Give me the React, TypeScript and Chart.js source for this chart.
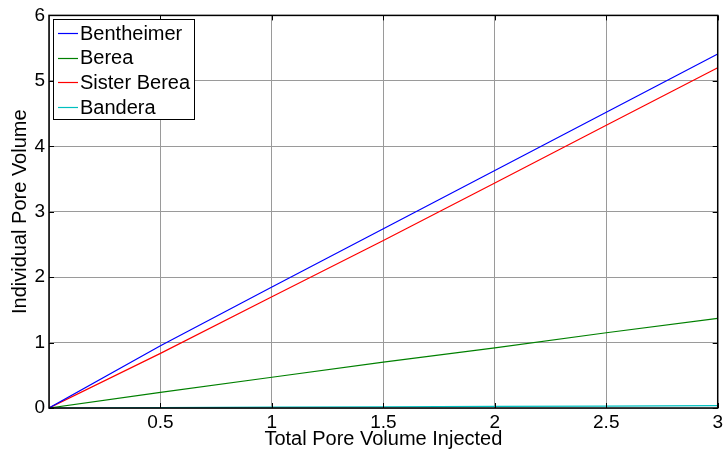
import React, { useEffect, useRef } from "react";
import { Chart, registerables } from "chart.js";
Chart.register(...registerables);

const xValues = [0, 0.5, 1, 1.5, 2, 2.5, 3];
const bentheimer = [0, 0.95, 1.85, 2.74, 3.63, 4.52, 5.41];
const berea = [0, 0.24, 0.47, 0.7, 0.92, 1.15, 1.37];
const sisterBerea = [0, 0.835, 1.7, 2.56, 3.44, 4.32, 5.2];
const bandera = [0, 0.006, 0.012, 0.018, 0.024, 0.03, 0.035];
const seriesNames = ["Bentheimer", "Berea", "Sister Berea", "Bandera"];
const seriesColors = ["#0000ff", "#008000", "#ff0000", "#00bfbf"];
const xTicks = [0.5, 1, 1.5, 2, 2.5, 3];
const yTicks = [0, 1, 2, 3, 4, 5, 6];

const FONT = "'Liberation Sans', Arial, sans-serif";

const framePlugin = {
  id: "frame",
  afterDraw(chart: any) {
    const { ctx, chartArea: a, scales } = chart;
    ctx.save();
    ctx.strokeStyle = "#000";
    ctx.lineWidth = 1;
    ctx.beginPath();
    for (const v of xTicks) {
      const x = Math.round(scales.x.getPixelForValue(v)) + 0.5;
      ctx.moveTo(x, a.bottom);
      ctx.lineTo(x, a.bottom - 5);
      ctx.moveTo(x, a.top);
      ctx.lineTo(x, a.top + 5);
    }
    for (const v of yTicks) {
      const y = Math.round(scales.y.getPixelForValue(v)) + 0.5;
      ctx.moveTo(a.left, y);
      ctx.lineTo(a.left + 5, y);
      ctx.moveTo(a.right, y);
      ctx.lineTo(a.right - 5, y);
    }
    ctx.stroke();
    ctx.lineWidth = 1.5;
    ctx.strokeRect(a.left, a.top, a.right - a.left, a.bottom - a.top);

    // legend
    const lx = 53, ly = 19, lw = 141, lh = 100;
    ctx.fillStyle = "#fff";
    ctx.fillRect(lx, ly, lw, lh);
    ctx.lineWidth = 1;
    ctx.strokeStyle = "#000";
    ctx.strokeRect(lx + 0.5, ly + 0.5, lw, lh);
    ctx.font = `20px ${FONT}`;
    ctx.textBaseline = "middle";
    ctx.textAlign = "left";
    seriesNames.forEach((n, i) => {
      const y = ly + 14 + i * 24.7;
      ctx.strokeStyle = seriesColors[i];
      ctx.lineWidth = 1.2;
      ctx.beginPath();
      ctx.moveTo(lx + 5, Math.round(y) + 0.5);
      ctx.lineTo(lx + 25, Math.round(y) + 0.5);
      ctx.stroke();
      ctx.fillStyle = "#000";
      ctx.fillText(n, lx + 27, y + 1);
    });
    ctx.restore();
  },
};

export default function App() {
  const ref = useRef<HTMLCanvasElement>(null);
  useEffect(() => {
    document.body.style.margin = "0";
    const series = [bentheimer, berea, sisterBerea, bandera];
    const chart = new Chart(ref.current!, {
      type: "line",
      data: {
        datasets: series.map((d, i) => ({
          label: seriesNames[i],
          data: d.map((y, j) => ({ x: xValues[j], y })),
          borderColor: seriesColors[i],
          borderWidth: 1.2,
          pointRadius: 0,
          fill: false,
        })),
      },
      options: {
        animation: false,
        responsive: false,
        layout: { padding: { top: 15, right: 5, left: 0, bottom: 0 } },
        plugins: { legend: { display: false }, tooltip: { enabled: false } },
        scales: {
          x: {
            type: "linear",
            min: 0,
            max: 3,
            afterBuildTicks: (s: any) => {
              s.ticks = [0, ...xTicks].map((v) => ({ value: v }));
            },
            afterFit: (s: any) => {
              s.height = 46;
            },
            grid: { color: "#9a9a9a", drawTicks: false, lineWidth: 1 },
            border: { display: false },
            ticks: {
              color: "#000",
              font: { family: FONT, size: 19 },
              padding: 3,
              maxRotation: 0,
              autoSkip: false,
              callback: (v: any) => (v === 0 ? "" : String(v)),
            },
            title: {
              display: true,
              text: "Total Pore Volume Injected",
              color: "#000",
              font: { family: FONT, size: 20 },
              padding: { top: 0, bottom: 3 },
            },
          },
          y: {
            type: "linear",
            min: 0,
            max: 6,
            afterBuildTicks: (s: any) => {
              s.ticks = yTicks.map((v) => ({ value: v }));
            },
            afterFit: (s: any) => {
              s.width = 49;
            },
            grid: { color: "#9a9a9a", drawTicks: false, lineWidth: 1 },
            border: { display: false },
            ticks: {
              color: "#000",
              font: { family: FONT, size: 19 },
              padding: 4,
              autoSkip: false,
            },
            title: {
              display: true,
              text: "Individual Pore Volume",
              color: "#000",
              font: { family: FONT, size: 20 },
              padding: { top: 8, bottom: 0 },
            },
          },
        },
      },
      plugins: [framePlugin],
    } as any);
    return () => chart.destroy();
  }, []);
  return (
    <div style={{ width: 726, height: 454 }}>
      <canvas ref={ref} width={726} height={454} style={{ display: "block" }} />
    </div>
  );
}
